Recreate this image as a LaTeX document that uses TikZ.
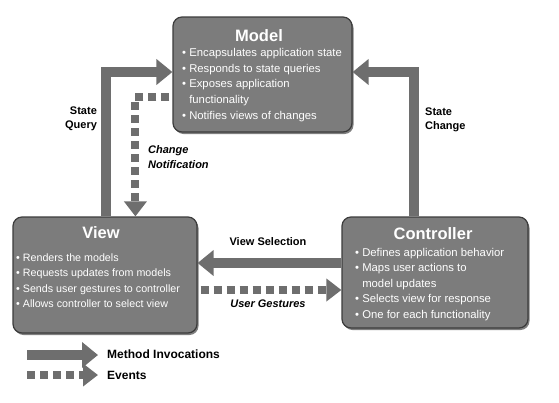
\documentclass[tikz,border=0pt]{standalone}
\usepackage{fontspec}
\setmainfont{Liberation Sans}
\usetikzlibrary{calc, arrows.meta, shadows}
\definecolor{boxgray}{HTML}{7C7C7C}
\definecolor{boxedge}{HTML}{3C3C3C}
\definecolor{arrowgray}{HTML}{6E6E6E}
\tikzset{
  box/.style={draw=boxedge, line width=1.2pt, fill=boxgray, rounded corners=9pt,
    drop shadow={shadow xshift=1.5pt, shadow yshift=-2pt, opacity=0.5, fill=black}},
  boxtitle/.style={text=white, inner sep=0pt, font=\fontsize{16.5}{18}\selectfont\bfseries},
  boxtext/.style={text=white, inner sep=0pt, anchor=north west, align=left,
    font=\fontsize{11.3}{15.8}\selectfont},
  invoke/.style={draw=arrowgray, line width=10pt, -{Triangle[width=25pt,length=16pt]}},
  event/.style={draw=arrowgray, line width=8pt, dash pattern=on 8pt off 5pt,
    -{Triangle[width=22pt,length=15pt]}},
  lbl/.style={inner sep=0pt, font=\fontsize{11}{14.5}\selectfont\bfseries},
}

\begin{document}
\begin{tikzpicture}[x=1pt, y=-1pt]
    \useasboundingbox (0,0) rectangle (559,402);
    % boxes
    \node[box, minimum width=179pt, minimum height=115pt] (model) at (262.5,74.5) {};
    \node[box, minimum width=184pt, minimum height=116pt] (view) at (105,275) {};
    \node[box, minimum width=186pt, minimum height=111pt] (controller) at (435,272.5) {};
    \node[boxtitle] (modeltitle) at (259,36) {Model};
    \node[boxtitle] (viewtitle) at (101,233) {View};
    \node[boxtitle] (controllertitle) at (433,234) {Controller};
    \node[boxtext] (modeltext) at (182,48) {%
      \textbullet\ Encapsulates application state\\
      \textbullet\ Responds to state queries\\
      \textbullet\ Exposes application\\
      \phantom{\textbullet\ }functionality\\
      \textbullet\ Notifies views of changes};
    \node[boxtext, font=\fontsize{10.7}{15.4}\selectfont] (viewtext) at (16,253.5) {%
      \textbullet\ Renders the models\\
      \textbullet\ Requests updates from models\\
      \textbullet\ Sends user gestures to controller\\
      \textbullet\ Allows controller to select view};
    \node[boxtext, font=\fontsize{11.3}{15.5}\selectfont] (controllertext) at (355,248) {%
      \textbullet\ Defines application behavior\\
      \textbullet\ Maps user actions to\\
      \phantom{\textbullet\ }model updates\\
      \textbullet\ Selects view for response\\
      \textbullet\ One for each functionality};
    % method invocations
    \draw[invoke] ($(view.north west)+(94,0)$) |- ($(model.west)+(0,-2.5)$);
    \draw[invoke] ($(controller.north west)+(73,0)$) |- ($(model.east)+(0,-2.5)$);
    \draw[invoke] ($(controller.west)+(0,-9.5)$) -- ($(view.east)+(0,-12)$);
    % events
    \draw[event] ($(model.west)+(-3,22.5)$) -| ($(view.north west)+(123,0)$);
    \draw[event] ($(view.east)+(3,15)$) -- ($(controller.west)+(0,17.5)$);
    % labels
    \node[lbl, align=right] (statequery) at (81,119) {State\\Query};
    \node[lbl, align=left, anchor=west] (changenote) at (148,157) {\itshape Change\\\itshape Notification};
    \node[lbl, align=left, anchor=west] (statechange) at (425,120) {State\\Change};
    \node[lbl] (viewselect) at (268,242) {View Selection};
    \node[lbl] (usergest) at (268,304) {\itshape User Gestures};
    % legend
    \coordinate (mi0) at (27,355);
    \coordinate (mi1) at (98,355);
    \coordinate (ev0) at (27,375);
    \coordinate (ev1) at (98,375);
    \draw[invoke] (mi0) -- (mi1);
    \draw[event] (ev0) -- (ev1);
    \node[lbl, anchor=west, font=\fontsize{12}{14}\selectfont\bfseries] (methodinv) at (107,354) {Method Invocations};
    \node[lbl, anchor=west, font=\fontsize{12}{14}\selectfont\bfseries] (events) at (107,375) {Events};
\end{tikzpicture}
\end{document}
